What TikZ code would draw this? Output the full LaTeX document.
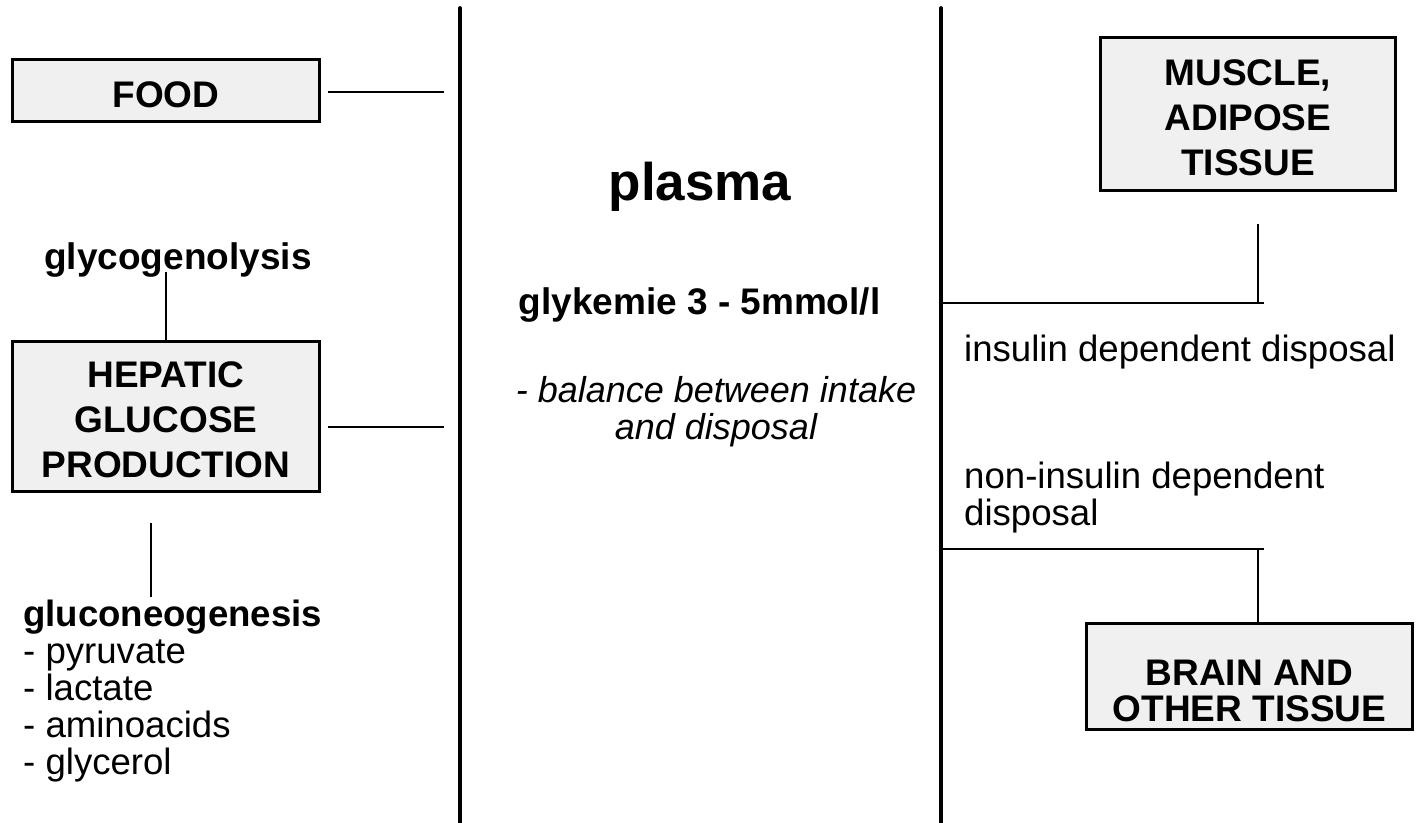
\documentclass[tikz,border=0pt]{standalone}
\usepackage{fontspec}
\setmainfont{Liberation Sans}
\definecolor{boxgray}{RGB}{240,240,240}
\begin{document}
\begin{tikzpicture}[x=1pt,y=-1pt,
  box/.style={draw=black, line width=3.2pt, fill=boxgray, align=center, inner sep=0pt,
    text depth=0pt, font=\bfseries\fontsize{37}{45}\selectfont},
  txt/.style={inner sep=0pt, font=\fontsize{36.6}{37}\selectfont},
  conn/.style={line width=1.6pt},
  divider/.style={line width=3.8pt, line cap=round}]
\useasboundingbox (0,0) rectangle (1419,822);

% dividers
\coordinate (d1t) at (460,8);   \coordinate (d1b) at (460,830);
\coordinate (d2t) at (941,8);   \coordinate (d2b) at (941,830);
\draw[divider] (d1t) -- (d1b);
\draw[divider] (d2t) -- (d2b);

% boxes
\node[box, minimum width=307pt, minimum height=62pt, text height=33pt]
  (food) at (166,90.5) {FOOD};
\node[box, minimum width=307pt, minimum height=150pt, text height=121pt]
  (hep) at (166,416.5) {HEPATIC\\GLUCOSE\\PRODUCTION};
\node[box, minimum width=295pt, minimum height=153pt, text height=122pt]
  (muscle) at (1248,114) {MUSCLE,\\ADIPOSE\\TISSUE};
\node[box, minimum width=326pt, minimum height=106pt, text height=90pt,
  font=\bfseries\fontsize{37}{36}\selectfont]
  (brain) at (1249.5,676.5) {BRAIN AND\\OTHER TISSUE};

% texts
\node[txt, anchor=base, font=\bfseries\fontsize{37}{37}\selectfont] (glyco) at (178,269) {glycogenolysis};
\node[txt, anchor=base west, align=left] (gluco) at (23,774)
  {\textbf{gluconeogenesis}\\- pyruvate\\- lactate\\- aminoacids\\- glycerol};
\node[txt, anchor=base, font=\bfseries\fontsize{53}{53}\selectfont] (plasma) at (700,200) {plasma};
\node[txt, anchor=base, font=\bfseries\fontsize{37}{37}\selectfont] (glyk) at (699.5,314) {glykemie 3 - 5mmol/l};
\node[txt, anchor=base, align=center, font=\itshape\fontsize{36}{37}\selectfont] (bal) at (716,439)
  {- balance between intake\\and disposal};
\node[txt, anchor=base west] (ins) at (964,361) {insulin dependent disposal};
\node[txt, anchor=base west, align=left] (nonins) at (964,525) {non-insulin dependent\\disposal};

% connectors
\coordinate (foodR) at (328,92);   \coordinate (foodP) at (444,92);
\draw[conn] (foodR) -- (foodP);
\coordinate (hepR) at (328,427);   \coordinate (hepP) at (444,427);
\draw[conn] (hepR) -- (hepP);
\coordinate (glycoB) at (166,272);
\draw[conn] (glycoB) -- (hep.north);
\coordinate (gluT) at (151,523);   \coordinate (gluB) at (151,597);
\draw[conn] (gluT) -- (gluB);

\coordinate (up1) at (941,303);    \coordinate (up2) at (1264,303);
\coordinate (upM) at (1258,303);   \coordinate (muscB) at (1258,224);
\draw[conn] (up1) -- (up2);
\draw[conn] (muscB) -- (upM);
\coordinate (lo1) at (941,549);    \coordinate (lo2) at (1264,549);
\coordinate (loM) at (1258,549);   \coordinate (brT) at (1258,624);
\draw[conn] (lo1) -- (lo2);
\draw[conn] (loM) -- (brT);
\end{tikzpicture}
\end{document}
